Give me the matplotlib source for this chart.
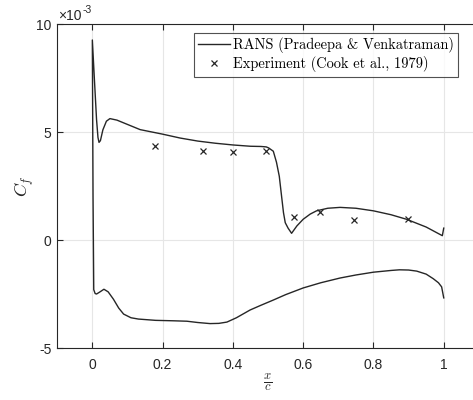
import matplotlib
matplotlib.use("Agg")
import matplotlib.pyplot as plt

plt.rcParams['mathtext.fontset'] = 'cm'
plt.rcParams['font.family'] = ['Liberation Sans', 'DejaVu Sans']

# Skin friction coefficient values, in units of 1e-3
upper_x = [0.0, 0.006, 0.012, 0.016, 0.019, 0.023, 0.03, 0.04, 0.05, 0.07, 0.1, 0.136,
           0.2, 0.25, 0.3, 0.35, 0.4, 0.45, 0.48, 0.495, 0.502, 0.515, 0.524, 0.532,
           0.538, 0.544, 0.549, 0.557, 0.567, 0.582, 0.6, 0.62, 0.638, 0.67, 0.705,
           0.75, 0.8, 0.85, 0.894, 0.95, 0.996, 1.0]
upper_y = [9.26, 7.4, 5.57, 4.75, 4.52, 4.6, 5.1, 5.5, 5.62, 5.55, 5.35, 5.11,
           4.9, 4.72, 4.58, 4.48, 4.4, 4.34, 4.33, 4.31, 4.26, 4.11, 3.6, 2.95,
           2.1, 1.26, 0.8, 0.55, 0.31, 0.65, 0.96, 1.2, 1.35, 1.47, 1.51,
           1.47, 1.35, 1.17, 0.96, 0.6, 0.2, 0.55]
lower_x = [0.0, 0.002, 0.004, 0.008, 0.012, 0.02, 0.033, 0.045, 0.06, 0.075, 0.089,
           0.11, 0.131, 0.18, 0.23, 0.269, 0.3, 0.335, 0.36, 0.383, 0.41, 0.449, 0.48,
           0.515, 0.55, 0.6, 0.65, 0.705, 0.75, 0.8, 0.85, 0.874, 0.9, 0.923, 0.95,
           0.97, 0.985, 0.994, 1.0]
lower_y = [9.26, 2.0, -2.3, -2.48, -2.5, -2.42, -2.28, -2.4, -2.74, -3.15, -3.43,
           -3.6, -3.66, -3.72, -3.74, -3.76, -3.82, -3.87, -3.86, -3.8, -3.6, -3.24, -3.02,
           -2.78, -2.53, -2.22, -1.98, -1.76, -1.62, -1.49, -1.41, -1.38, -1.39, -1.44, -1.58,
           -1.79, -1.98, -2.17, -2.68]
exp_x = [0.179, 0.316, 0.401, 0.494, 0.575, 0.649, 0.746, 0.899]
exp_y = [4.37, 4.14, 4.07, 4.14, 1.07, 1.3, 0.93, 0.99]

x_ticks = [0, 0.2, 0.4, 0.6, 0.8, 1.0]
x_ticklabels = ['0', '0.2', '0.4', '0.6', '0.8', '1']
y_ticks = [-5, 0, 5, 10]
y_ticklabels = ['-5', '0', '5', '10']

line_x = lower_x[::-1] + upper_x[1:]
line_y = lower_y[::-1] + upper_y[1:]

W, H = 473, 400
fig = plt.figure(figsize=(W / 100, H / 100), dpi=100)
x0, x1 = -0.1, 1.1
px0 = 57.2
pxscale = 351.4
right_px = px0 + (x1 - x0) * pxscale
ax = fig.add_axes([px0 / W, 1 - 348 / H, (right_px - px0) / W, (348 - 24) / H])

tc = '#262626'
ax.plot(line_x, line_y, color=tc, lw=1.0,
        label='RANS (Pradeepa & Venkatraman)')
ax.plot(exp_x, exp_y, linestyle='none', marker='x', color=tc, ms=4.5, mew=0.9,
        label='Experiment (Cook et al., 1979)')

ax.set_xlim(x0, x1)
ax.set_ylim(-5, 10)
ax.set_xticks(x_ticks)
ax.set_xticklabels(x_ticklabels)
ax.set_yticks(y_ticks)
ax.set_yticklabels(y_ticklabels)
ax.grid(True, color='#e6e6e6', lw=0.8)
ax.set_axisbelow(True)
ax.tick_params(direction='in', length=4, width=0.8, colors=tc, labelsize=10,
               top=True, right=False)
ax.tick_params(axis='x', pad=7)
ax.tick_params(axis='y', pad=4)
for s in ax.spines.values():
    s.set_color(tc)
    s.set_linewidth(0.8)
ax.spines['right'].set_visible(False)

ax.set_xlabel(r'$\frac{x}{c}$', fontsize=13, color=tc, labelpad=0)
ax.set_ylabel(r'$C_f$', fontsize=13, color=tc, labelpad=0)
fig.text(58 / W, 1 - 16 / H, '×10', fontsize=10, color=tc, va='center', ha='left')
fig.text(83 / W, 1 - 10 / H, '-3', fontsize=7.5, color=tc, va='center', ha='left')

leg = ax.legend(loc='upper right', bbox_to_anchor=(458 / W, 1 - 33 / H),
                bbox_transform=fig.transFigure, prop={'family': 'cmr10', 'size': 10.4},
                frameon=True, fancybox=False, edgecolor=tc, handlelength=2.2,
                handletextpad=0.2, borderpad=0.3, labelspacing=0.2, borderaxespad=0)
leg.get_frame().set_linewidth(0.8)

fig.savefig('out.png', dpi=100)
